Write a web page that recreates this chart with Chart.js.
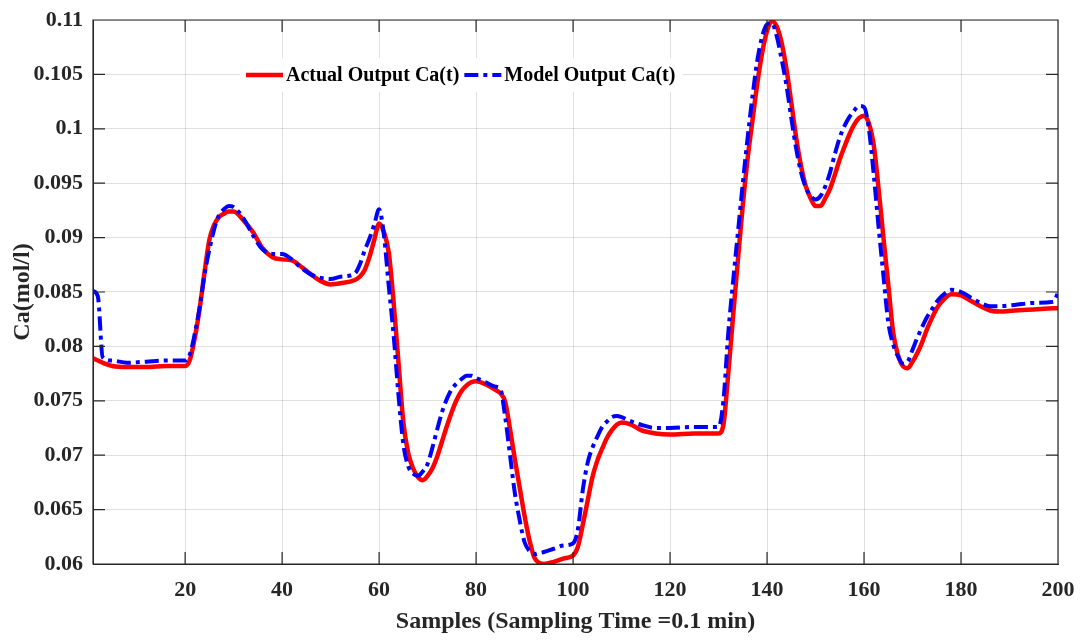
<!DOCTYPE html>
<html>
<head>
<meta charset="utf-8">
<script src="https://cdn.jsdelivr.net/npm/chart.js@4"></script>
<style>
  html, body { margin: 0; padding: 0; background: #fff; }
  #wrap { width: 1080px; height: 640px; }
</style>
</head>
<body>
<div id="wrap"><canvas id="caChart" width="1080" height="640"></canvas></div>
<script>
// sample numbers shared by both series
const samples = [
    1, 2, 3, 5, 8, 12, 16, 20, 21, 22,
    23, 24, 25, 26, 27, 28, 29, 30, 32, 34,
    36, 38, 40, 42, 44, 46, 48, 50, 52, 55,
    56, 57, 58, 59, 60, 61, 62, 63, 64, 65,
    66, 67, 68, 69, 70, 71, 72, 73, 74, 75,
    76, 77, 78, 79, 80, 82, 84, 85, 86, 87,
    88, 89, 90, 91, 92, 93, 94, 96, 98, 100,
    101, 102, 103, 104, 105, 106, 107, 108, 109, 110,
    112, 114, 117, 120, 125, 130, 131, 132, 133, 134,
    135, 136, 137, 138, 139, 140, 141, 142, 143, 144,
    145, 146, 147, 148, 149, 150, 151, 152, 153, 154,
    155, 156, 157, 158, 159, 160, 161, 162, 163, 164,
    165, 166, 167, 168, 169, 170, 171, 172, 173, 174,
    175, 176, 178, 180, 182, 184, 186, 188, 191, 195,
    199, 200
];

// Actual Output Ca(t)
const actualCa = [
    0.0789, 0.0787, 0.0785, 0.0782, 0.0781, 0.0781, 0.0782, 0.0782, 0.0788, 0.0808,
    0.0835, 0.0868, 0.0898, 0.0912, 0.0919, 0.0922, 0.0924, 0.0924, 0.0916, 0.0905,
    0.0890, 0.0882, 0.0880, 0.0879, 0.0873, 0.0866, 0.0860, 0.0857, 0.0858, 0.0861,
    0.0864, 0.0870, 0.0882, 0.0898, 0.0913, 0.0905, 0.0886, 0.0840, 0.0785, 0.0730,
    0.0702, 0.0688, 0.0680, 0.0677, 0.0681, 0.0688, 0.0699, 0.0713, 0.0727, 0.0740,
    0.0751, 0.0759, 0.0764, 0.0767, 0.0768, 0.0765, 0.0760, 0.0757, 0.0749, 0.0724,
    0.0696, 0.0670, 0.0644, 0.0622, 0.0606, 0.0601, 0.0600, 0.0602, 0.0605, 0.0608,
    0.0616, 0.0636, 0.0658, 0.0680, 0.0695, 0.0706, 0.0716, 0.0723, 0.0728, 0.0730,
    0.0728, 0.0723, 0.0720, 0.0719, 0.0720, 0.0720, 0.0728, 0.0775, 0.0828, 0.0880,
    0.0930, 0.0973, 0.1008, 0.1042, 0.1070, 0.1090, 0.1099, 0.1094, 0.1079, 0.1055,
    0.1024, 0.0992, 0.0966, 0.0947, 0.0936, 0.0929, 0.0929, 0.0936, 0.0945, 0.0958,
    0.0972, 0.0984, 0.0995, 0.1004, 0.1010, 0.1012, 0.1005, 0.0985, 0.0945, 0.0900,
    0.0857, 0.0813, 0.0792, 0.0782, 0.0780, 0.0786, 0.0794, 0.0804, 0.0816, 0.0826,
    0.0835, 0.0841, 0.0848, 0.0847, 0.0842, 0.0837, 0.0833, 0.0832, 0.0833, 0.0834,
    0.0835, 0.0835
];

// Model Output Ca(t)
const modelCa = [
    0.0851, 0.0846, 0.0790, 0.0787, 0.0785, 0.0786, 0.0787, 0.0787, 0.0793, 0.0812,
    0.0836, 0.0866, 0.0889, 0.0908, 0.0921, 0.0926, 0.0929, 0.0928, 0.0918, 0.0902,
    0.0889, 0.0885, 0.0885, 0.0880, 0.0872, 0.0866, 0.0863, 0.0862, 0.0864, 0.0867,
    0.0875, 0.0888, 0.0899, 0.0912, 0.0926, 0.0902, 0.0855, 0.0810, 0.0755, 0.0710,
    0.0690, 0.0683, 0.0681, 0.0685, 0.0692, 0.0707, 0.0724, 0.0740, 0.0752, 0.0761,
    0.0766, 0.0770, 0.0773, 0.0773, 0.0771, 0.0767, 0.0763, 0.0761, 0.0735, 0.0700,
    0.0665, 0.0640, 0.0620, 0.0612, 0.0609, 0.0610, 0.0611, 0.0614, 0.0617, 0.0619,
    0.0632, 0.0668, 0.0693, 0.0707, 0.0717, 0.0726, 0.0731, 0.0735, 0.0736, 0.0735,
    0.0731, 0.0728, 0.0725, 0.0725, 0.0726, 0.0726, 0.0750, 0.0812, 0.0860, 0.0905,
    0.0950, 0.0992, 0.1030, 0.1063, 0.1085, 0.1096, 0.1097, 0.1085, 0.1064, 0.1040,
    0.1010, 0.0982, 0.0960, 0.0946, 0.0938, 0.0935, 0.0938, 0.0947, 0.0960, 0.0977,
    0.0992, 0.1003, 0.1011, 0.1017, 0.1021, 0.1020, 0.1000, 0.0958, 0.0910, 0.0865,
    0.0822, 0.0802, 0.0791, 0.0784, 0.0786, 0.0797, 0.0808, 0.0818, 0.0827, 0.0834,
    0.0841, 0.0846, 0.0852, 0.0850, 0.0845, 0.0840, 0.0837, 0.0837, 0.0838, 0.0840,
    0.0841, 0.0849
];

const xTicks = [20, 40, 60, 80, 100, 120, 140, 160, 180, 200];
const yTicks = [0.06, 0.065, 0.07, 0.075, 0.08, 0.085, 0.09, 0.095, 0.1, 0.105, 0.11];

const axisColor = '#262626';
const gridColor = 'rgba(0, 0, 0, 0.12)';

Chart.defaults.font.family = "'Liberation Serif', 'Times New Roman', serif";
Chart.defaults.font.weight = 'bold';
Chart.defaults.color = axisColor;

// scales should not ask for extra room for overhanging labels
function noLabelPadding(s) {
    s.paddingTop = 0;
    s.paddingBottom = 0;
    s.paddingLeft = 0;
    s.paddingRight = 0;
}

// box around the plot + MATLAB style inward ticks on all four sides
const boxTicks = {
    id: 'boxTicks',
    afterDraw(chart) {
        const { ctx, chartArea: a, scales: { x, y } } = chart;
        const len = 12;
        ctx.save();
        ctx.strokeStyle = axisColor;
        ctx.lineWidth = 1.2;
        ctx.beginPath();
        ctx.rect(a.left, a.top, a.right - a.left, a.bottom - a.top);
        xTicks.forEach(v => {
            const px = x.getPixelForValue(v);
            ctx.moveTo(px, a.bottom); ctx.lineTo(px, a.bottom - len);
            ctx.moveTo(px, a.top); ctx.lineTo(px, a.top + len);
        });
        yTicks.forEach(v => {
            const py = y.getPixelForValue(v);
            ctx.moveTo(a.left, py); ctx.lineTo(a.left + len, py);
            ctx.moveTo(a.right, py); ctx.lineTo(a.right - len, py);
        });
        ctx.stroke();
        ctx.restore();
    }
};

// legend drawn inside the axes with a white background, no border
const innerLegend = {
    id: 'innerLegend',
    afterDraw(chart) {
        const ctx = chart.ctx;
        const left = 246, midY = 75, sample = 37, gap = 3;
        ctx.save();
        ctx.font = "bold 20px 'Liberation Serif', 'Times New Roman', serif";
        ctx.textBaseline = 'middle';
        let total = 0;
        const items = chart.data.datasets.slice().sort((p, q) => p.legendIndex - q.legendIndex);
        items.forEach(ds => { total += sample + gap + ctx.measureText(ds.label).width + 5; });
        ctx.fillStyle = '#fff';
        ctx.fillRect(left - 6, midY - 17, total + 8, 34);
        let cx = left;
        items.forEach(ds => {
            ctx.strokeStyle = ds.borderColor;
            ctx.lineWidth = ds.borderWidth;
            ctx.setLineDash(ds.borderDash || []);
            ctx.beginPath();
            ctx.moveTo(cx, midY);
            ctx.lineTo(cx + sample, midY);
            ctx.stroke();
            ctx.setLineDash([]);
            ctx.fillStyle = '#000';
            ctx.fillText(ds.label, cx + sample + gap, midY + 1);
            cx += sample + gap + ctx.measureText(ds.label).width + 5;
        });
        ctx.restore();
    }
};

const ctx = document.getElementById('caChart').getContext('2d');
new Chart(ctx, {
    type: 'line',
    data: {
        datasets: [
            {
                label: 'Actual Output Ca(t)',
                legendIndex: 0,
                data: samples.map((s, i) => ({ x: s, y: actualCa[i] })),
                borderColor: '#ff0000',
                borderWidth: 4.5,
                pointRadius: 0,
                cubicInterpolationMode: 'monotone',
                order: 2
            },
            {
                label: 'Model Output Ca(t)',
                legendIndex: 1,
                data: samples.map((s, i) => ({ x: s, y: modelCa[i] })),
                borderColor: '#0000ff',
                borderWidth: 4,
                borderDash: [14, 5, 4, 5],
                pointRadius: 0,
                cubicInterpolationMode: 'monotone',
                order: 1
            }
        ]
    },
    options: {
        responsive: false,
        animation: false,
        devicePixelRatio: 1,
        layout: { padding: { top: 20, right: 22, left: 0, bottom: 0 } },
        plugins: {
            legend: { display: false },
            tooltip: { enabled: false }
        },
        scales: {
            x: {
                type: 'linear',
                min: 1,
                max: 200,
                afterBuildTicks: s => { s.ticks = xTicks.map(v => ({ value: v })); },
                afterFit: s => { s.height = 76; noLabelPadding(s); },
                ticks: { font: { size: 22, weight: 'bold' }, padding: 13, maxRotation: 0, autoSkip: false },
                grid: { color: gridColor, drawTicks: false },
                border: { color: axisColor, width: 1 },
                title: {
                    display: true,
                    text: 'Samples (Sampling Time =0.1 min)',
                    font: { size: 24, weight: 'bold' },
                    padding: { top: 0, bottom: 4 }
                }
            },
            y: {
                min: 0.06,
                max: 0.11,
                afterBuildTicks: s => { s.ticks = yTicks.map(v => ({ value: v })); },
                afterFit: s => { s.width = 93; noLabelPadding(s); },
                ticks: { font: { size: 22, weight: 'bold' }, padding: 10, callback: v => String(v) },
                grid: { color: gridColor, drawTicks: false },
                border: { color: axisColor, width: 1 },
                title: {
                    display: true,
                    text: 'Ca(mol/l)',
                    font: { size: 24, weight: 'bold' },
                    padding: { top: 8, bottom: 0 }
                }
            }
        }
    },
    plugins: [boxTicks, innerLegend]
});
</script>
</body>
</html>
